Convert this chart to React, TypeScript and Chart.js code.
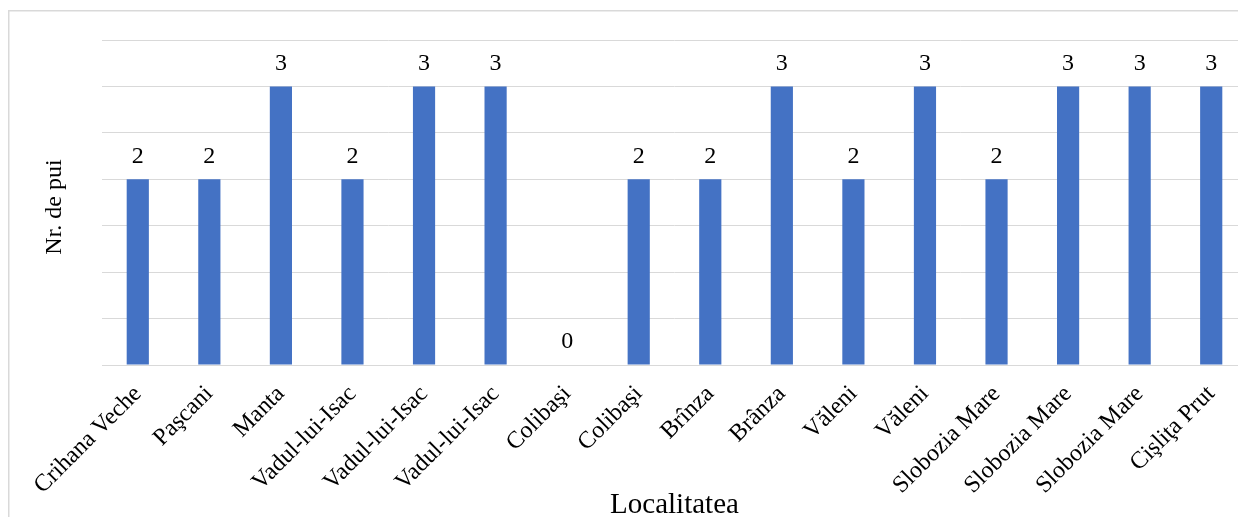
import { useEffect, useRef } from "react";
import { Chart, registerables } from "chart.js";

Chart.register(...registerables);

// Localities and number of chicks per nest
const localities = [
  "Crihana Veche",
  "Paşcani",
  "Manta",
  "Vadul-lui-Isac",
  "Vadul-lui-Isac",
  "Vadul-lui-Isac",
  "Colibaşi",
  "Colibaşi",
  "Brînza",
  "Brânza",
  "Văleni",
  "Văleni",
  "Slobozia Mare",
  "Slobozia Mare",
  "Slobozia Mare",
  "Cişliţa Prut",
];
const chicks = [2, 2, 3, 2, 3, 3, 0, 2, 2, 3, 2, 3, 2, 3, 3, 3];

const axisMin = 0;
const axisMax = 3.5;
const axisStep = 0.5;

const yTitle = "Nr. de pui";
const xTitle = "Localitatea";

const SERIF = '"Liberation Serif", "Times New Roman", serif';
const GRID = "#d9d9d9";
const BAR = "#4472c4";

const CANVAS_W = 1250;
const CANVAS_H = 530;

// White page background and the thin outer frame
const framePlugin = {
  id: "frame",
  beforeDraw(chart: any) {
    const ctx = chart.ctx;
    ctx.save();
    ctx.fillStyle = "#ffffff";
    ctx.fillRect(0, 0, chart.width, chart.height);
    ctx.strokeStyle = GRID;
    ctx.lineWidth = 1.5;
    ctx.strokeRect(8.75, 10.75, chart.width + 50, chart.height + 50);
    ctx.restore();
  },
};

// Value written above every bar, plus the vertical axis title
const valueLabelPlugin = {
  id: "valueLabels",
  afterDatasetsDraw(chart: any) {
    const ctx = chart.ctx;
    const meta = chart.getDatasetMeta(0);
    ctx.save();
    ctx.font = `24px ${SERIF}`;
    ctx.fillStyle = "#000000";
    ctx.textAlign = "center";
    ctx.textBaseline = "middle";
    meta.data.forEach((bar: any, i: number) => {
      ctx.fillText(String(chicks[i]), bar.x, bar.y - 23);
    });
    ctx.restore();

    ctx.save();
    ctx.font = `24px ${SERIF}`;
    ctx.fillStyle = "#000000";
    ctx.textAlign = "center";
    ctx.textBaseline = "middle";
    ctx.translate(55, 207);
    ctx.rotate(-Math.PI / 2);
    ctx.fillText(yTitle, 0, 0);
    ctx.restore();
  },
};

export default function App() {
  const canvasRef = useRef<HTMLCanvasElement | null>(null);

  useEffect(() => {
    if (!canvasRef.current) return;
    const chart = new Chart(canvasRef.current, {
      type: "bar",
      data: {
        labels: localities,
        datasets: [
          {
            label: yTitle,
            data: chicks,
            backgroundColor: BAR,
            borderWidth: 0,
            categoryPercentage: 1,
            barPercentage: 0.31,
          },
        ],
      },
      options: {
        responsive: false,
        animation: false,
        layout: { padding: { top: 40, right: 3, left: 0, bottom: 0 } },
        plugins: {
          legend: { display: false },
          tooltip: { enabled: false },
        },
        scales: {
          x: {
            grid: { display: false, drawTicks: false },
            border: { display: true, color: GRID, width: 1 },
            ticks: {
              autoSkip: false,
              minRotation: 45,
              maxRotation: 45,
              padding: 15,
              color: "#000000",
              font: { family: SERIF, size: 24 },
            },
            title: {
              display: true,
              text: xTitle,
              color: "#000000",
              font: { family: SERIF, size: 29 },
              padding: { top: 0, bottom: 7 },
            },
            afterFit: (scale: any) => {
              scale.height = 165;
            },
          },
          y: {
            min: axisMin,
            max: axisMax,
            grid: { color: GRID, lineWidth: 1, drawTicks: false },
            border: { display: false },
            ticks: { display: false, stepSize: axisStep },
            title: { display: false },
            afterFit: (scale: any) => {
              scale.width = 102;
            },
          },
        },
      },
      plugins: [framePlugin, valueLabelPlugin],
    });
    return () => chart.destroy();
  }, []);

  return (
    <div
      style={{
        position: "fixed",
        left: 0,
        top: 0,
        width: 1238,
        height: 517,
        overflow: "hidden",
        background: "#ffffff",
      }}
    >
      <canvas
        ref={canvasRef}
        width={CANVAS_W}
        height={CANVAS_H}
        style={{ display: "block", width: CANVAS_W, height: CANVAS_H }}
      />
    </div>
  );
}
